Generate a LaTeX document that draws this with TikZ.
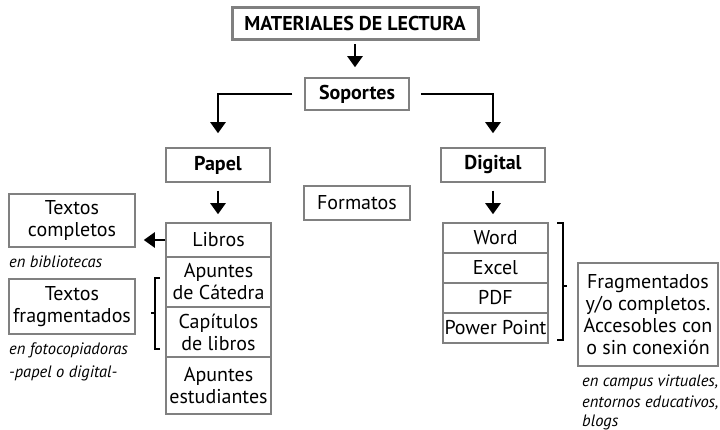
\documentclass[tikz,border=0pt]{standalone}
\usepackage{fontspec}
\setmainfont{PT Sans}
\usepackage{tikz}
\usetikzlibrary{arrows.meta}
\tikzstyle{caja}=[rectangle,draw=black!50,line width=1.5pt,align=center,
inner sep=0pt,font=\fontsize{20}{22}\selectfont]
\tikzstyle{nota}=[anchor=west,inner sep=0pt,font=\fontsize{16.5}{18}\selectfont\itshape]
\tikzstyle{flecha}=[-{Triangle[width=15pt,length=11pt]},line width=2.2pt]

\begin{document}
\begin{tikzpicture}[x=1pt,y=-1pt]
	\useasboundingbox (0,0) rectangle (720,430);

	\node  (mat)   at (355,24)    [caja,line width=3pt,minimum width=246pt,minimum height=32pt,font=\fontsize{20}{22}\selectfont\bfseries] {MATERIALES DE LECTURA};
	\node  (sop)   at (357,94)    [caja,minimum width=104pt,minimum height=32pt,font=\fontsize{20}{22}\selectfont\bfseries] {Soportes};
	\node  (pap)   at (218,165)   [caja,minimum width=104pt,minimum height=34pt,font=\fontsize{20}{22}\selectfont\bfseries] {Papel};
	\node  (dig)   at (493,165)   [caja,minimum width=104pt,minimum height=34pt,font=\fontsize{20}{22}\selectfont\bfseries] {Digital};
	\node  (fmt)   at (357,203)   [caja,minimum width=106pt,minimum height=34pt] {Formatos};

	\node  (lib)   at (218.5,240)   [caja,minimum width=105pt,minimum height=34pt] {Libros};
	\node  (apc)   at (218.5,282)   [caja,minimum width=105pt,minimum height=50pt] {Apuntes\\de Cátedra};
	\node  (cap)   at (218.5,332)   [caja,minimum width=105pt,minimum height=50pt] {Capítulos\\de libros};
	\node  (ape)   at (218.5,385.5) [caja,minimum width=105pt,minimum height=57pt] {Apuntes\\estudiantes};

	\node  (wor)   at (495.5,238)   [caja,minimum width=105pt,minimum height=30pt] {Word};
	\node  (exc)   at (495.5,268)   [caja,minimum width=105pt,minimum height=30pt] {Excel};
	\node  (pdf)   at (495.5,298)   [caja,minimum width=105pt,minimum height=30pt] {PDF};
	\node  (ppt)   at (495.5,328)   [caja,minimum width=105pt,minimum height=30pt] {Power Point};

	\node  (tc)    at (72,220.5)    [caja,minimum width=126pt,minimum height=53pt] {Textos\\completos};
	\node  (tf)    at (72,306.5)    [caja,minimum width=126pt,minimum height=55pt] {Textos\\fragmentados};
	\node  (fra)   at (648,314.5)   [caja,minimum width=140pt,minimum height=103pt] {Fragmentados\\y/o completos.\\Accesobles con\\o sin conexión};

	\node  (n1)    at (9,262)    [nota] {en bibliotecas};
	\node  (n2)    at (9,350)    [nota] {en fotocopiadoras};
	\node  (n3)    at (9,373)    [nota] {-papel o digital-};
	\node  (n4)    at (582,382)  [nota] {en campus virtuales,};
	\node  (n5)    at (582,403)  [nota] {entornos educativos,};
	\node  (n6)    at (582,422)  [nota] {blogs};

	\draw [flecha,shorten <=3pt,shorten >=10pt] (mat.south) to (mat.south |- sop.north);
	\draw [flecha,shorten <=12pt,shorten >=14pt] (sop.west) -| (pap.north);
	\draw [flecha,shorten <=11pt,shorten >=14pt] (sop.east) -| (dig.north);
	\draw [flecha,shorten <=8pt,shorten >=8pt] (pap.south) to (pap.south |- lib.north);
	\draw [flecha,shorten <=8pt,shorten >=8pt] (dig.south) to (dig.south |- wor.north);
	\draw [flecha,shorten >=8pt] (lib.west) to (tc.east |- lib.west);

	\draw [line width=2pt] (160,278) -- (155,278) -- (155,349) -- (160,349);
	\draw [line width=2pt] (155,313) -- (151,313);
	\draw [line width=2pt] (557,223) -- (563,223) -- (563,340) -- (557,340);
	\draw [line width=2pt] (563,286) -- (567,286);

\end{tikzpicture}
\end{document}
